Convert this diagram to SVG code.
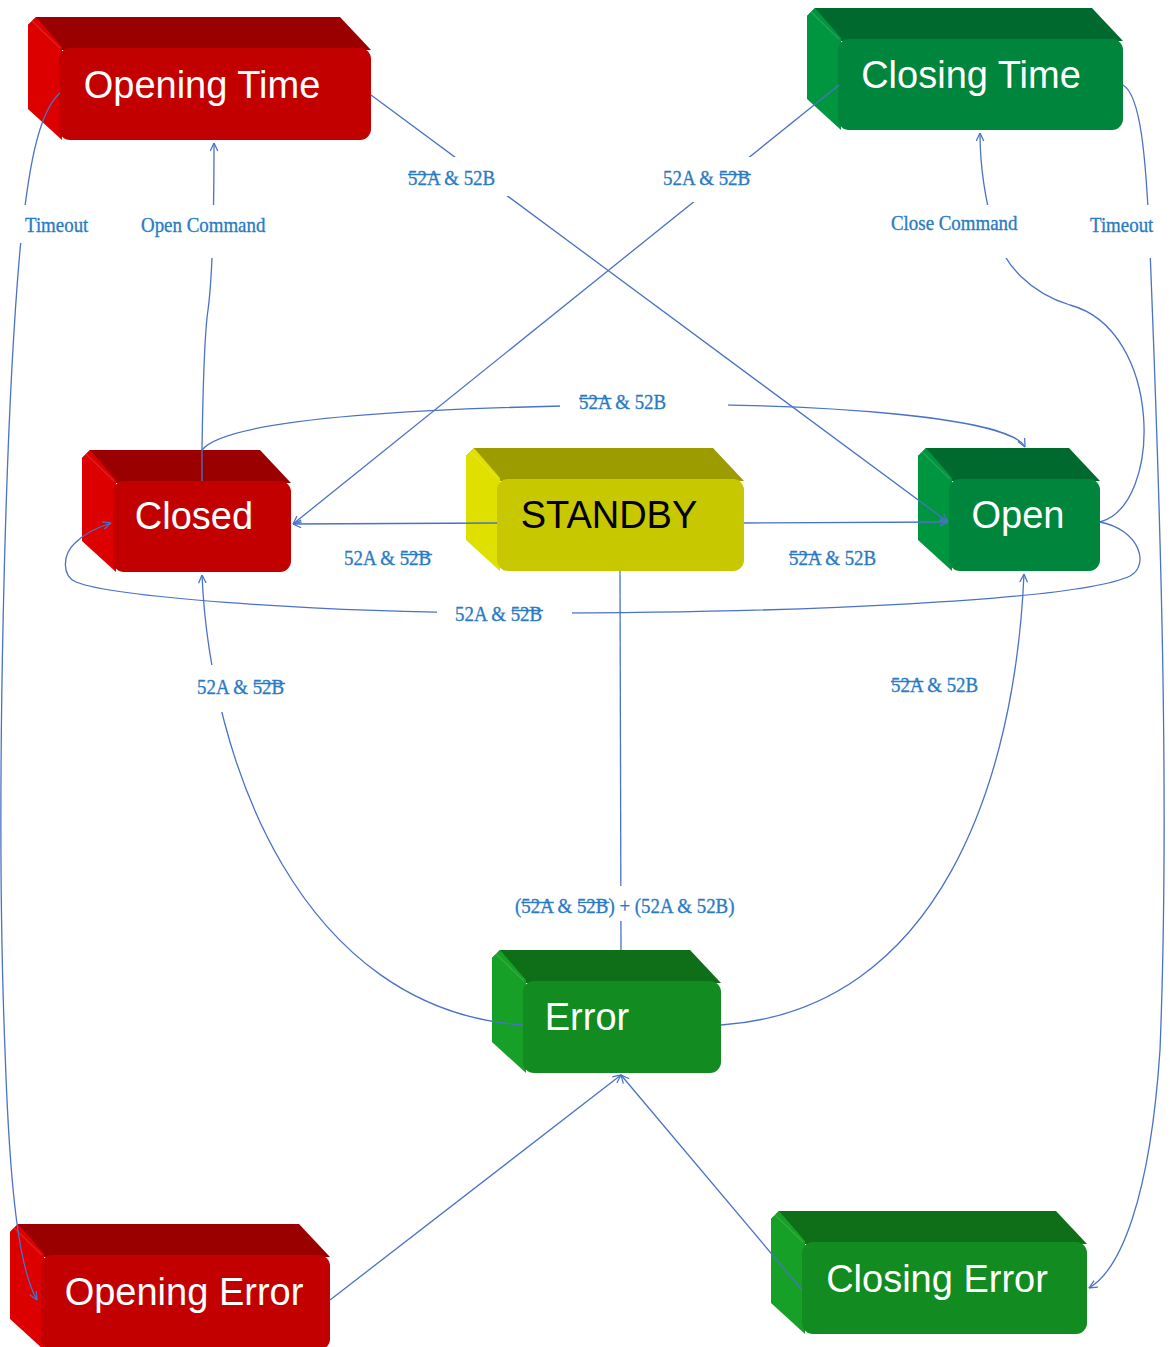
<svg xmlns="http://www.w3.org/2000/svg" width="1170" height="1347" viewBox="0 0 1170 1347">
  <style>
    .red .top { fill: #9b0000; }
    .red .side { fill: #dc0000; }
    .red .front { fill: #c20000; }
    .teal .top { fill: #006a2e; }
    .teal .side { fill: #009640; }
    .teal .front { fill: #00853c; }
    .lime .top { fill: #0f6e18; }
    .lime .side { fill: #17a027; }
    .lime .front { fill: #128b20; }
    .olive .top { fill: #9c9c00; }
    .olive .side { fill: #e0e000; }
    .olive .front { fill: #c8c800; }
    .bevel { fill: none; stroke: #ffffff; stroke-opacity: 0.12; stroke-width: 1.5; }
    .name { font-family: "Liberation Sans", Arial, sans-serif; font-size: 38px; fill: #ffffff; text-anchor: middle; }
    .olive .name { fill: #000000; }
    .edge { fill: none; stroke: #4a72c6; stroke-width: 1.3; marker-end: url(#arr); }
    .plain { fill: none; stroke: #4a72c6; stroke-width: 1.3; }
    .mask { fill: #ffffff; }
    .label text { font-family: "Liberation Serif", "Times New Roman", serif; font-size: 21px; fill: #2b7bc4; stroke: #2b7bc4; stroke-width: 0.35; }
    .bar { stroke: #2b7bc4; stroke-width: 1.3; }
  </style>
  <defs>
    <marker id="arr" viewBox="0 0 10 10" refX="9.5" refY="5" markerWidth="9" markerHeight="9" markerUnits="userSpaceOnUse" orient="auto">
      <path d="M0.5,0.8 L9.5,5 L0.5,9.2" fill="none" stroke="#4a72c6" stroke-width="1.4"/>
    </marker>
  </defs>

  <rect width="1170" height="1347" fill="#ffffff"/>

  <!-- state boxes -->
  <g id="nodes">
    <g id="node-opening-time" class="red">
      <polygon class="top" points="36,17 340,17 371,50 59,50 28,25"/>
      <polygon class="side" points="28,25 36,17 62,47 62,140 28,109"/>
      <polyline class="bevel" points="30,19 60,48"/>
      <rect class="front" x="59" y="48" width="312" height="92" rx="11"/>
      <text class="name" x="202" y="98">Opening Time</text>
    </g>
    <g id="node-closing-time" class="teal">
      <polygon class="top" points="815,8 1092,8 1123,41 838,41 807,16"/>
      <polygon class="side" points="807,16 815,8 841,38 841,130 807,99"/>
      <polyline class="bevel" points="809,10 839,39"/>
      <rect class="front" x="838" y="39" width="285" height="91" rx="11"/>
      <text class="name" x="971" y="88">Closing Time</text>
    </g>
    <g id="node-closed" class="red">
      <polygon class="top" points="90,450 260,450 291,483 113,483 82,458"/>
      <polygon class="side" points="82,458 90,450 116,480 116,572 82,541"/>
      <polyline class="bevel" points="84,452 114,481"/>
      <rect class="front" x="113" y="481" width="178" height="91" rx="11"/>
      <text class="name" x="194" y="529">Closed</text>
    </g>
    <g id="node-standby" class="olive">
      <polygon class="top" points="474,448 713,448 744,481 497,481 466,456"/>
      <polygon class="side" points="466,456 474,448 500,478 500,571 466,540"/>
      <polyline class="bevel" points="468,450 498,479"/>
      <rect class="front" x="497" y="479" width="247" height="92" rx="11"/>
      <text class="name" x="609" y="528">STANDBY</text>
    </g>
    <g id="node-open" class="teal">
      <polygon class="top" points="926,448 1069,448 1100,481 949,481 918,456"/>
      <polygon class="side" points="918,456 926,448 952,478 952,571 918,540"/>
      <polyline class="bevel" points="920,450 950,479"/>
      <rect class="front" x="949" y="479" width="151" height="92" rx="11"/>
      <text class="name" x="1018" y="528">Open</text>
    </g>
    <g id="node-error" class="lime">
      <polygon class="top" points="500,950 690,950 721,983 523,983 492,958"/>
      <polygon class="side" points="492,958 500,950 526,980 526,1073 492,1042"/>
      <polyline class="bevel" points="494,952 524,981"/>
      <rect class="front" x="523" y="981" width="198" height="92" rx="11"/>
      <text class="name" x="587" y="1030">Error</text>
    </g>
    <g id="node-opening-error" class="red">
      <polygon class="top" points="18,1224 299,1224 330,1257 41,1257 10,1232"/>
      <polygon class="side" points="10,1232 18,1224 44,1254 44,1350 10,1319"/>
      <polyline class="bevel" points="12,1226 42,1255"/>
      <rect class="front" x="41" y="1255" width="289" height="95" rx="11"/>
      <text class="name" x="184" y="1305">Opening Error</text>
    </g>
    <g id="node-closing-error" class="lime">
      <polygon class="top" points="779,1211 1056,1211 1087,1244 802,1244 771,1219"/>
      <polygon class="side" points="771,1219 779,1211 805,1241 805,1334 771,1303"/>
      <polyline class="bevel" points="773,1213 803,1242"/>
      <rect class="front" x="802" y="1242" width="285" height="92" rx="11"/>
      <text class="name" x="937" y="1292">Closing Error</text>
    </g>
  </g>

  <!-- transitions -->
  <g id="connectors">
    <path class="edge" d="M371,95 L948,522"/>
    <path class="edge" d="M839,85 L293,524"/>
    <path class="edge" d="M60,93 C38,112 28,170 20,250 C5,420 -5,800 5,1050 C10,1200 20,1270 37,1300"/>
    <path class="edge" d="M202,481 L202,450 C203,380 205,330 208,310 C212,280 214,220 214,143"/>
    <path class="edge" d="M1100,522 C1163,505 1163,330 1070,305 C1030,293 1005,265 995,235 C985,200 980,165 980,133"/>
    <path class="edge" d="M1123,85 C1140,95 1146,150 1150,250 C1160,500 1170,800 1160,1050 C1150,1200 1120,1270 1089,1288"/>
    <path class="edge" d="M202,450 C225,420 400,408 620,405 C830,402 1010,418 1025,447"/>
    <path class="edge" d="M497,523 L293,524"/>
    <path class="edge" d="M744,523 L948,522"/>
    <path class="edge" d="M1100,522 C1140,530 1150,565 1130,576 C1080,600 800,614 500,613 C300,612 110,596 76,582 C62,576 62,555 75,543 C85,533 98,527 111,523"/>
    <path class="plain" d="M620,571 L621,950"/>
    <path class="edge" d="M523,1025 C300,1010 210,760 202,575"/>
    <path class="edge" d="M721,1025 C940,1010 1015,780 1024,574"/>
    <path class="edge" d="M330,1300 L621,1075"/>
    <path class="edge" d="M802,1290 L621,1075"/>
  </g>

  <!-- transition conditions -->
  <g id="labels">
    <g class="label">
      <rect class="mask" x="404" y="157" width="106" height="39"/>
      <g transform="translate(408,185) scale(0.9,1)"><text>52A &amp; 52B</text><line class="bar" x1="0" y1="-10.5" x2="36.2" y2="-10.5"/></g>
    </g>
    <g class="label">
      <rect class="mask" x="660" y="157" width="96" height="45"/>
      <g transform="translate(663,185) scale(0.9,1)"><text>52A &amp; 52B</text><line class="bar" x1="63" y1="-10.5" x2="98" y2="-10.5"/></g>
    </g>
    <g class="label">
      <rect class="mask" x="15" y="205" width="78" height="38"/>
      <g transform="translate(25,232) scale(0.9,1)"><text>Timeout</text></g>
    </g>
    <g class="label">
      <rect class="mask" x="138" y="205" width="132" height="53"/>
      <g transform="translate(141,232) scale(0.9,1)"><text>Open Command</text></g>
    </g>
    <g class="label">
      <rect class="mask" x="888" y="205" width="134" height="53"/>
      <g transform="translate(891,230) scale(0.9,1)"><text>Close Command</text></g>
    </g>
    <g class="label">
      <rect class="mask" x="1087" y="205" width="73" height="53"/>
      <g transform="translate(1090,232) scale(0.9,1)"><text>Timeout</text></g>
    </g>
    <g class="label">
      <rect class="mask" x="560" y="393" width="168" height="22"/>
      <g transform="translate(579,409) scale(0.9,1)"><text>52A &amp; 52B</text><line class="bar" x1="0" y1="-10.5" x2="36.2" y2="-10.5"/></g>
    </g>
    <g class="label">
      <rect class="mask" x="341" y="546" width="96" height="24"/>
      <g transform="translate(344,565) scale(0.9,1)"><text>52A &amp; 52B</text><line class="bar" x1="63" y1="-10.5" x2="98" y2="-10.5"/></g>
    </g>
    <g class="label">
      <rect class="mask" x="786" y="546" width="96" height="24"/>
      <g transform="translate(789,565) scale(0.9,1)"><text>52A &amp; 52B</text><line class="bar" x1="0" y1="-10.5" x2="36.2" y2="-10.5"/></g>
    </g>
    <g class="label">
      <rect class="mask" x="437" y="602" width="135" height="24"/>
      <g transform="translate(455,621) scale(0.9,1)"><text>52A &amp; 52B</text><line class="bar" x1="63" y1="-10.5" x2="98" y2="-10.5"/></g>
    </g>
    <g class="label">
      <rect class="mask" x="194" y="665" width="96" height="47"/>
      <g transform="translate(197,694) scale(0.9,1)"><text>52A &amp; 52B</text><line class="bar" x1="63" y1="-10.5" x2="98" y2="-10.5"/></g>
    </g>
    <g class="label">
      <rect class="mask" x="888" y="673" width="96" height="24"/>
      <g transform="translate(891,692) scale(0.9,1)"><text>52A &amp; 52B</text><line class="bar" x1="0" y1="-10.5" x2="36.2" y2="-10.5"/></g>
    </g>
    <g class="label">
      <rect class="mask" x="512" y="886" width="233" height="35"/>
      <g transform="translate(515,913) scale(0.9,1)"><text>(52A &amp; 52B) + (52A &amp; 52B)</text><line class="bar" x1="7" y1="-10.5" x2="43.2" y2="-10.5"/><line class="bar" x1="70" y1="-10.5" x2="105" y2="-10.5"/></g>
    </g>
  </g>
</svg>
